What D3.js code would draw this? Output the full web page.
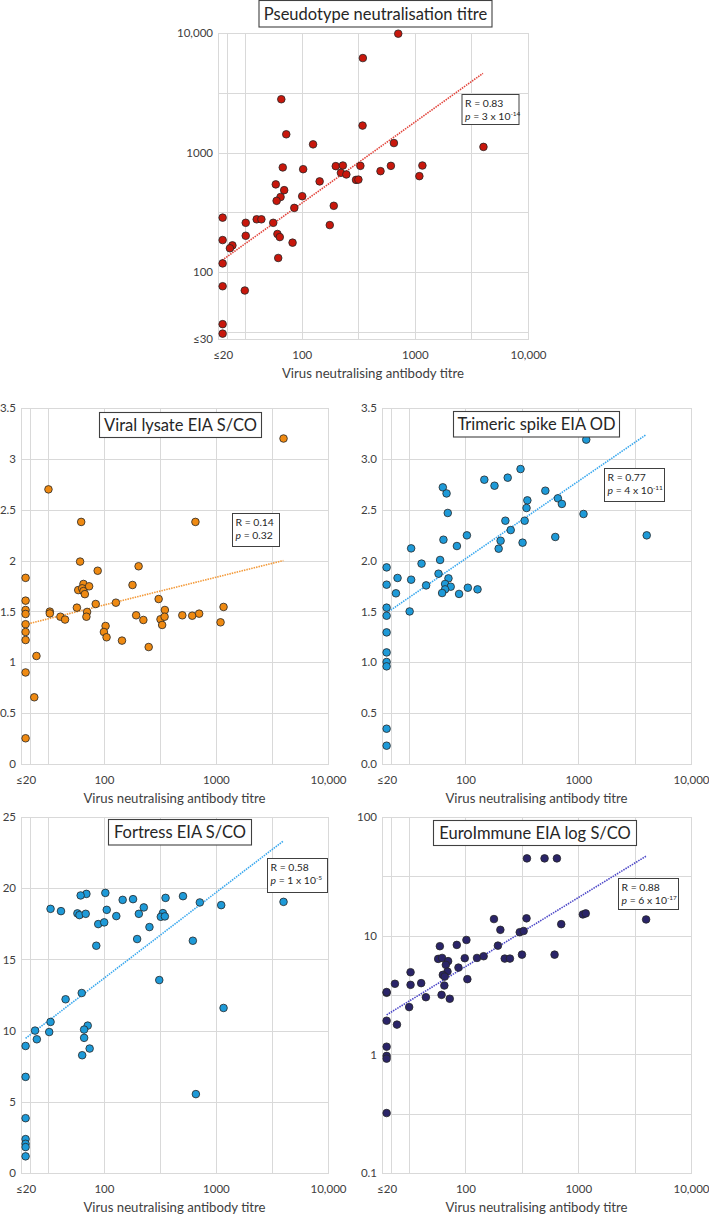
<!DOCTYPE html>
<html>
<head>
<meta charset="utf-8">
<script src="https://cdn.jsdelivr.net/npm/d3@7"></script>
<style>
    body { margin: 0; background: #fff; }
    svg text { font-family: Lato, "Open Sans", sans-serif; }
    .grid { stroke: #d9d9d9; stroke-width: 1; shape-rendering: crispEdges; fill: none; }
    .tick text { fill: #404040; font-size: 11.5px; }
    .axisTitle { fill: #404040; font-size: 13.2px; text-anchor: middle; }
    .titleBox { fill: #fff; stroke: #404040; stroke-width: 1.1; }
    .titleText { fill: #262626; font-size: 16.5px; text-anchor: middle; }
    .statBox { fill: #fff; stroke: #404040; stroke-width: 1; }
    .statText { fill: #262626; font-size: 10.4px; }
    .dot { stroke: #262626; stroke-width: 0.8; }
</style>
</head>
<body>
<script>
//wrap everything in an anonymous function so nothing is in global scope
(function () {

    //shared x axis (virus neutralising antibody titre)
    var xTickVals = [20, 100, 1000, 10000];
    var xTickLabels = ["≤20", "100", "1000", "10,000"];
    var xGridVals = [22, 31.62, 100, 316.2, 1000, 3162, 10000];

    //pseudotype neutralisation titre
    var pseudoX = [713, 347, 66, 345, 73, 126, 653, 4040, 68, 103, 200, 231, 222, 248, 330, 302, 317, 497, 614, 1096,
        1166, 144, 59, 70, 101, 65, 60, 192, 86, 177, 20, 32, 40, 44, 56, 20, 32, 61, 64, 83,
        24.4, 23.2, 62, 20, 20, 31.4, 20, 20];
    var pseudoY = [9870, 6170, 2790, 1680, 1420, 1170, 1200, 1114, 750, 725, 769, 778, 676, 655, 773, 590, 593, 698, 773, 634,
        778, 573, 541, 484, 431, 424, 394, 358, 344, 247, 285, 258, 276, 276, 258, 185, 201, 208, 196, 176,
        167, 158, 131, 118, 76, 70, 36.6, 30.5];
    var pseudoTrendX = [19, 4000];
    var pseudoTrendY = [122, 4600];
    var pseudoYTicks = [27.5, 100, 1000, 10000];
    var pseudoYLabels = ["≤30", "100", "1000", "10,000"];
    var pseudoYGrid = [31.62, 100, 316.2, 1000, 3162, 10000];

    //viral lysate EIA
    var lysateX = [4010, 32, 62.7, 656, 61.3, 88, 204, 20, 65.7, 59, 64, 65.7, 67.6, 73.8, 180, 20, 84.5, 128, 308, 20,
        20, 32.9, 32.9, 57.4, 70.8, 69.8, 40.9, 45, 194, 225, 350, 320, 348, 501, 614, 708, 1169, 1099, 20, 103.5,
        331, 20, 100, 20, 105.6, 145, 251, 25, 20, 23.9, 20];
    var lysateY = [3.2, 2.70, 2.38, 2.38, 1.99, 1.90, 1.944, 1.83, 1.77, 1.71, 1.727, 1.70, 1.67, 1.747, 1.76, 1.606, 1.573, 1.586, 1.622, 1.514,
        1.475, 1.498, 1.48, 1.537, 1.495, 1.448, 1.448, 1.42, 1.462, 1.416, 1.514, 1.423, 1.448, 1.462, 1.458, 1.478, 1.544, 1.393, 1.374, 1.357,
        1.367, 1.298, 1.298, 1.219, 1.246, 1.213, 1.15, 1.062, 0.90, 0.656, 0.253];
    var lysateTrendX = [19, 4000];
    var lysateTrendY = [1.366, 2.0];
    var lysateYTicks = [0, 0.5, 1, 1.5, 2, 2.5, 3, 3.5];
    var lysateYLabels = ["0", "0.5", "1", "1.5", "2", "2.5", "3", "3.5"];

    //trimeric spike EIA
    var spikeX = [1178, 308, 147, 237, 181, 63, 68, 511, 660, 716, 354, 348, 69.7, 1114, 226, 335, 252, 103, 4050, 626,
        63.8, 205, 321, 84, 33, 197, 20, 59.6, 40.8, 57.7, 70.7, 25, 33, 20, 44.8, 66, 74, 66, 105, 128,
        24.2, 62.1, 87.8, 20, 32, 20, 20, 20, 20, 20, 20, 20];
    var spikeY = [3.189, 2.90, 2.795, 2.815, 2.736, 2.72, 2.66, 2.687, 2.612, 2.557, 2.592, 2.517, 2.468, 2.458, 2.392, 2.392, 2.30, 2.248, 2.248, 2.232,
        2.205, 2.195, 2.176, 2.143, 2.12, 2.117, 1.933, 2.006, 1.97, 1.871, 1.825, 1.829, 1.812, 1.763, 1.756, 1.77, 1.743, 1.717, 1.733, 1.717,
        1.678, 1.681, 1.672, 1.537, 1.50, 1.458, 1.294, 1.097, 1.003, 0.96, 0.347, 0.18];
    var spikeTrendX = [20, 4000];
    var spikeTrendY = [1.485, 3.238];
    var spikeYTicks = [0, 0.5, 1, 1.5, 2, 2.5, 3, 3.5];
    var spikeYLabels = ["0.0", "0.5", "1.0", "1.5", "2.0", "2.5", "3.0", "3.5"];

    //fortress EIA
    var fortressX = [4010, 103, 69.8, 62, 508, 355, 147, 182, 718, 1114, 33.4, 41.4, 58, 60.5, 68.8, 106, 129, 227, 205, 336,
        322, 350, 89, 100.6, 255, 198, 622, 85.5, 312, 45.5, 63.4, 1169, 33.4, 24.3, 32.5, 25.2, 71.7, 66.6, 66.6, 74.6,
        64, 20, 20, 662, 20, 20, 20, 20, 20];
    var fortressY = [19.04, 19.67, 19.6, 19.49, 19.44, 19.32, 19.18, 19.23, 19.0, 18.81, 18.55, 18.39, 18.23, 18.11, 18.2, 18.48, 18.04, 18.65, 18.2, 18.25,
        17.99, 18.02, 17.48, 17.6, 17.27, 16.43, 16.31, 15.96, 13.55, 12.2, 12.64, 11.59, 10.61, 10.0, 9.9, 9.39, 10.35, 10.07, 9.49, 8.74,
        8.27, 8.92, 6.75, 5.54, 3.85, 2.38, 2.05, 1.82, 1.17];
    var fortressTrendX = [20, 4000];
    var fortressTrendY = [9.46, 23.32];
    var fortressYTicks = [0, 5, 10, 15, 20, 25];
    var fortressYLabels = ["0", "5", "10", "15", "20", "25"];

    //euroimmune EIA (log)
    var euroX = [351, 503, 647, 179, 348, 1099, 1166, 4000, 707, 204, 303, 328, 194, 102, 83.8, 59.3, 57.3, 62.1, 70.2, 67,
        69.3, 63, 65.5, 98.6, 126.6, 145, 223, 248, 317, 617, 86.7, 104, 32.6, 32.6, 23.7, 40.5, 65, 44.6, 61.4, 72.6,
        20, 20, 31.7, 20, 24.7, 20, 20, 20, 20];
    var euroY = [44.8, 44.8, 44.8, 13.8, 14.0, 15.1, 15.4, 13.7, 12.5, 11.2, 10.7, 10.95, 8.24, 9.2, 8.36, 8.15, 6.37, 6.49, 6.1, 5.68,
        4.98, 4.67, 4.52, 6.46, 6.49, 6.71, 6.41, 6.41, 6.92, 6.92, 5.38, 4.3, 4.92, 3.85, 3.93, 3.98, 3.8, 3.03, 3.17, 2.94,
        3.3, 3.35, 2.5, 1.92, 1.78, 1.16, 0.97, 0.92, 0.32];
    var euroTrendX = [20, 4000];
    var euroTrendY = [2.15, 46.8];
    var euroYTicks = [0.1, 1, 10, 100];
    var euroYLabels = ["0.1", "1", "10", "100"];
    var euroYGrid = [0.1, 0.3162, 1, 3.162, 10, 31.62, 100];

    //panel layout
    var panels = [
        {
            xs: pseudoX, ys: pseudoY, tx: pseudoTrendX, ty: pseudoTrendY,
            left: 218, right: 528, top: 33, bottom: 339,
            yLog: true, yDomain: [27.5, 10000], yTicks: pseudoYTicks, yLabels: pseudoYLabels, yGrid: pseudoYGrid,
            fill: "#c8170c", trend: "#e2453c",
            title: "Pseudotype neutralisation titre", titleBox: [259, 0.5, 233, 26.5],
            stat: ["0.83", "3 x 10", "-14"], statBox: [462, 94.5, 57, 30]
        },
        {
            xs: lysateX, ys: lysateY, tx: lysateTrendX, ty: lysateTrendY,
            left: 21, right: 328, top: 408, bottom: 764,
            yLog: false, yDomain: [0, 3.5], yTicks: lysateYTicks, yLabels: lysateYLabels, yGrid: lysateYTicks,
            fill: "#ef8a12", trend: "#f39a3a",
            title: "Viral lysate EIA S/CO", titleBox: [99.5, 412.5, 162, 25],
            stat: ["0.14", "0.32"], statBox: [232.5, 513.5, 47, 33]
        },
        {
            xs: spikeX, ys: spikeY, tx: spikeTrendX, ty: spikeTrendY,
            left: 382, right: 691, top: 408, bottom: 764,
            yLog: false, yDomain: [0, 3.5], yTicks: spikeYTicks, yLabels: spikeYLabels, yGrid: spikeYTicks,
            fill: "#1e9ad8", trend: "#3aa8ee",
            title: "Trimeric spike EIA OD", titleBox: [453.5, 411.5, 166, 25.5],
            stat: ["0.77", "4 x 10", "-11"], statBox: [604.5, 468.5, 60, 33]
        },
        {
            xs: fortressX, ys: fortressY, tx: fortressTrendX, ty: fortressTrendY,
            left: 21, right: 328, top: 817, bottom: 1173,
            yLog: false, yDomain: [0, 25], yTicks: fortressYTicks, yLabels: fortressYLabels, yGrid: fortressYTicks,
            fill: "#1e9ad8", trend: "#3aa8ee",
            title: "Fortress EIA S/CO", titleBox: [108.5, 819.5, 143, 25.5],
            stat: ["0.58", "1 x 10", "-5"], statBox: [267.5, 858.5, 60, 34]
        },
        {
            xs: euroX, ys: euroY, tx: euroTrendX, ty: euroTrendY,
            left: 382, right: 691, top: 817, bottom: 1173,
            yLog: true, yDomain: [0.1, 100], yTicks: euroYTicks, yLabels: euroYLabels, yGrid: euroYGrid,
            fill: "#2a2468", trend: "#4d48c8",
            title: "EuroImmune EIA log S/CO", titleBox: [433.5, 820.5, 203, 25],
            stat: ["0.88", "6 x 10", "-17"], statBox: [618.5, 878.5, 60, 31]
        }
    ];

    window.onload = setPage();

    function setPage() {
        var svg = d3.select("body")
            .append("svg")
            .attr("width", 709)
            .attr("height", 1216);

        panels.forEach(function (p) {
            drawPanel(svg, p);
        });
    };

    function drawPanel(svg, p) {
        var g = svg.append("g");

        var x = d3.scaleLog()
            .domain([18.2, 10000])
            .range([p.left, p.right]);

        var y = (p.yLog ? d3.scaleLog() : d3.scaleLinear())
            .domain(p.yDomain)
            .range([p.bottom, p.top]);

        //gridlines
        g.selectAll(".vgrid")
            .data(xGridVals)
            .enter()
            .append("line")
            .attr("class", "grid")
            .attr("x1", function (d) { return Math.round(x(d)) + 0.5; })
            .attr("x2", function (d) { return Math.round(x(d)) + 0.5; })
            .attr("y1", p.top)
            .attr("y2", p.bottom);

        g.selectAll(".hgrid")
            .data(p.yGrid)
            .enter()
            .append("line")
            .attr("class", "grid")
            .attr("x1", p.left)
            .attr("x2", p.right)
            .attr("y1", function (d) { return Math.round(y(d)) + 0.5; })
            .attr("y2", function (d) { return Math.round(y(d)) + 0.5; });

        //plot frame
        g.append("rect")
            .attr("class", "grid")
            .attr("x", p.left + 0.5)
            .attr("y", p.top + 0.5)
            .attr("width", p.right - p.left)
            .attr("height", p.bottom - p.top);

        //axes
        var xAxis = d3.axisBottom(x)
            .tickValues(xTickVals)
            .tickFormat(function (d, i) { return xTickLabels[i]; })
            .tickSize(0)
            .tickPadding(12);

        g.append("g")
            .attr("transform", "translate(0," + p.bottom + ")")
            .call(xAxis)
            .call(function (a) { a.select(".domain").remove(); })
            .selectAll("text")
            .attr("font-family", null)
            .attr("font-size", null);

        var yAxis = d3.axisLeft(y)
            .tickValues(p.yTicks)
            .tickFormat(function (d, i) { return p.yLabels[i]; })
            .tickSize(0)
            .tickPadding(5);

        g.append("g")
            .attr("transform", "translate(" + p.left + ",0)")
            .call(yAxis)
            .call(function (a) { a.select(".domain").remove(); })
            .selectAll("text")
            .attr("font-family", null)
            .attr("font-size", null);

        g.append("text")
            .attr("class", "axisTitle")
            .attr("x", (p.left + p.right) / 2)
            .attr("y", p.bottom + 39)
            .text("Virus neutralising antibody titre");

        //trend line
        g.append("line")
            .attr("x1", x(p.tx[0]))
            .attr("y1", y(p.ty[0]))
            .attr("x2", x(p.tx[1]))
            .attr("y2", y(p.ty[1]))
            .attr("stroke", p.trend)
            .attr("stroke-width", 1.6)
            .attr("stroke-dasharray", "1.5,1");

        //points
        g.selectAll(".dot")
            .data(p.xs)
            .enter()
            .append("circle")
            .attr("class", "dot")
            .attr("cx", function (d) { return x(d); })
            .attr("cy", function (d, i) { return y(p.ys[i]); })
            .attr("r", 3.8)
            .style("fill", p.fill);

        //title box
        var tb = p.titleBox;
        g.append("rect")
            .attr("class", "titleBox")
            .attr("x", tb[0])
            .attr("y", tb[1])
            .attr("width", tb[2])
            .attr("height", tb[3]);

        g.append("text")
            .attr("class", "titleText")
            .attr("x", tb[0] + tb[2] / 2)
            .attr("y", tb[1] + tb[3] / 2 + 6)
            .text(p.title);

        //correlation box
        var sb = p.statBox;
        g.append("rect")
            .attr("class", "statBox")
            .attr("x", sb[0])
            .attr("y", sb[1])
            .attr("width", sb[2])
            .attr("height", sb[3]);

        g.append("text")
            .attr("class", "statText")
            .attr("x", sb[0] + 3)
            .attr("y", sb[1] + 12)
            .text("R = " + p.stat[0]);

        var pText = g.append("text")
            .attr("class", "statText")
            .attr("x", sb[0] + 3)
            .attr("y", sb[1] + 25);
        pText.append("tspan").attr("font-style", "italic").text("p");
        pText.append("tspan").text(" = " + p.stat[1]);
        if (p.stat[2]) {
            pText.append("tspan")
                .attr("dy", -4)
                .attr("font-size", "6.5px")
                .text(p.stat[2]);
        }
    };

})();
</script>
</body>
</html>
